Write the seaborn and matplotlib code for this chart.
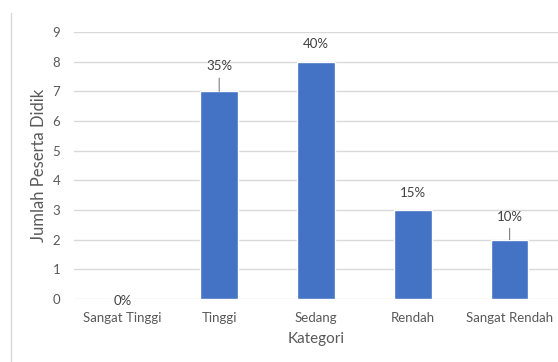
import matplotlib
matplotlib.use("Agg")
import matplotlib.pyplot as plt
import seaborn as sns
import pandas as pd
from matplotlib.lines import Line2D

categories = ["Sangat Tinggi", "Tinggi", "Sedang", "Rendah", "Sangat Rendah"]
values = [0, 7, 8, 3, 2]
pct_labels = ["0%", "35%", "40%", "15%", "10%"]
yticks = [0, 1, 2, 3, 4, 5, 6, 7, 8, 9]

df = pd.DataFrame({"Kategori": categories, "Jumlah": values})

sns.set_theme(style="white")
plt.rcParams["font.family"] = ["Lato", "DejaVu Sans"]

fig = plt.figure(figsize=(5.58, 3.62), dpi=100)
ax = fig.add_axes([74/558, 1 - 299/362, 1 - 74/558, (299 - 32)/362])

sns.barplot(data=df, x="Kategori", y="Jumlah", color="#4472C4", width=0.39,
            saturation=1, ax=ax, zorder=3)

ax.set_ylim(0, 9)
ax.set_xlim(-0.5, len(categories) - 0.5)
ax.set_yticks(yticks)
ax.yaxis.grid(True, color="#D9D9D9", linewidth=1, zorder=0)
ax.xaxis.grid(False)
for s in ax.spines.values():
    s.set_visible(False)
ax.tick_params(axis="y", length=0, pad=10, labelsize=9.5, labelcolor="#595959")
ax.tick_params(axis="x", length=0, pad=9, labelsize=9.5, labelcolor="#595959")
ax.set_ylabel("Jumlah Peserta Didik", fontsize=12, color="#595959", labelpad=4)
ax.set_xlabel("Kategori", fontsize=11, color="#595959", labelpad=6)

# data labels (pixel offsets above bar tops)
offsets = [-2, 25, 18, 17, 23]
leader = [False, True, False, False, True]
for i, (v, lab) in enumerate(zip(values, pct_labels)):
    off = offsets[i] * 0.72
    ax.annotate(lab, xy=(i, v), xytext=(0, off), textcoords="offset points",
                ha="center", va="center", fontsize=9.5, color="#404040",
                annotation_clip=False)
    if leader[i]:
        ax.annotate("", xy=(i, v), xytext=(0, off - 8.5), textcoords="offset points",
                    arrowprops=dict(arrowstyle="-", color="#7F7F7F", lw=0.8,
                                    shrinkA=0, shrinkB=0),
                    annotation_clip=False)

# outer chart border on the left
fig.add_artist(Line2D([11/558, 11/558], [0, 1 - 13/362], color="#D9D9D9", lw=1))

fig.savefig("out.png", dpi=100)
